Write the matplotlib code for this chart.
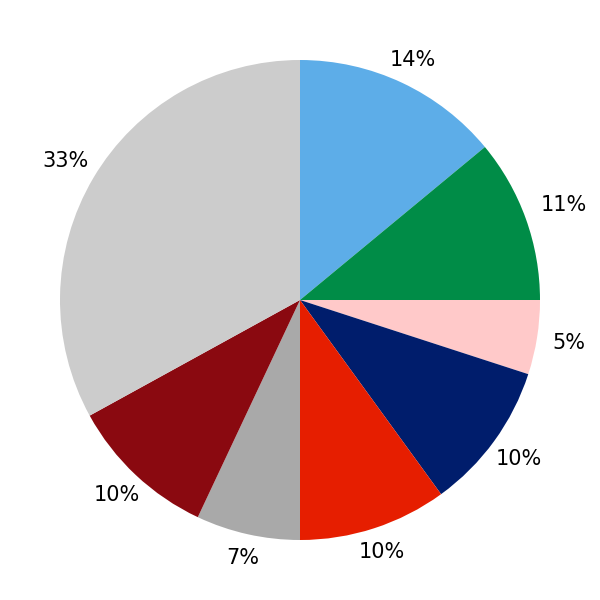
import matplotlib
matplotlib.use("Agg")
import matplotlib.pyplot as plt
import numpy as np

# slice shares (percent), clockwise from 12 o'clock
values = [14, 11, 5, 10, 10, 7, 10, 33]
colors = ["#5dade8", "#008c47", "#ffc9c9", "#001d6c", "#e61e00",
          "#a9a9a9", "#8a0910", "#cccccc"]
labels = ["{:.0f}%".format(v) for v in values]

fig = plt.figure(figsize=(6, 6), dpi=100)
ax = fig.add_axes([0, 0, 1, 1])

wedges, _ = ax.pie(values, colors=colors, startangle=90, counterclock=False)

ax.set_xlim(-1.25, 1.25)
ax.set_ylim(-1.25, 1.25)
ax.set_aspect("equal")
ax.axis("off")

# labels sit just outside the rim, pushed out by their own box
label_r = 1.065
px_per_unit = fig.get_figwidth() * fig.dpi / 2.5
renderer = fig.canvas.get_renderer()
for w, lab in zip(wedges, labels):
    ang = np.deg2rad((w.theta1 + w.theta2) / 2)
    ux, uy = np.cos(ang), np.sin(ang)
    t = ax.text(0, 0, lab, fontsize=15, ha="center", va="center")
    bb = t.get_window_extent(renderer)
    hw, hh = bb.width / 2, bb.height / 2 * 0.85
    d = min(hw / max(abs(ux), 1e-6), hh / max(abs(uy), 1e-6)) / px_per_unit
    t.set_position(((label_r + d) * ux, (label_r + d) * uy))

fig.savefig("out.png")
